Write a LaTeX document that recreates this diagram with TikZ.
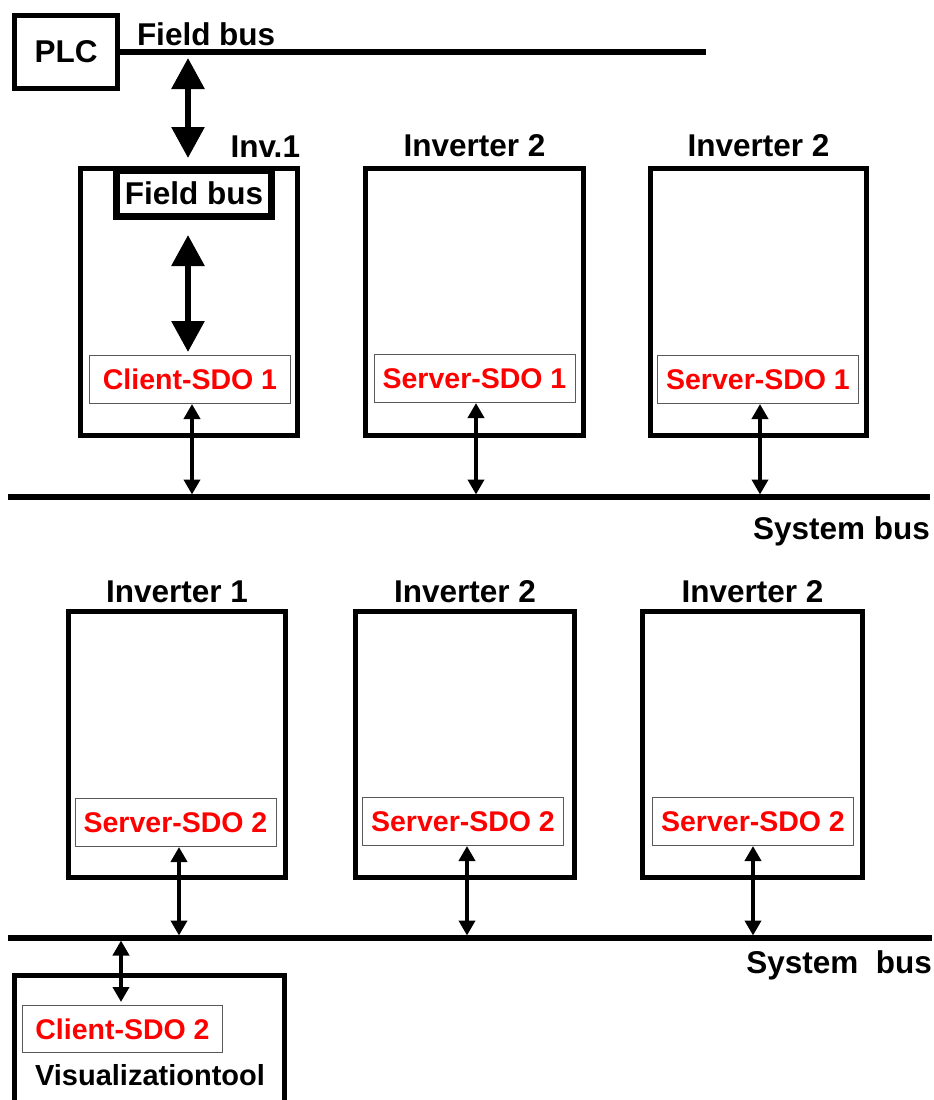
\documentclass[tikz,border=0pt]{standalone}
\usepackage{fontspec}
\setmainfont{Liberation Sans}
\usetikzlibrary{positioning,arrows.meta}

\begin{document}
\begin{tikzpicture}[x=1pt,y=-1pt,
		unit/.style={rectangle,draw=black,line width=5pt,minimum width=217pt,minimum height=267pt,inner sep=0pt},
		sdo/.style={rectangle,draw=black!65,line width=1pt,minimum width=201pt,minimum height=48pt,inner sep=0pt,text=red,font=\bfseries\fontsize{28.5}{34}\selectfont},
		lbl/.style={inner sep=0pt,outer sep=0pt,font=\bfseries\fontsize{31.5}{38}\selectfont},
		bus/.style={line width=5.5pt},
		bigarrow/.style={line width=6pt,{Triangle[width=32pt,length=31pt]}-{Triangle[width=32pt,length=31pt]}},
		smallarrow/.style={line width=4pt,{Triangle[width=16pt,length=15pt]}-{Triangle[width=16pt,length=15pt]}}]
		\useasboundingbox (0,0) rectangle (934,1100);
		\clip (0,0) rectangle (934,1100);

		% plc and field bus
		\node[rectangle,draw=black,line width=5pt,minimum width=103pt,minimum height=73pt,inner sep=0pt,font=\bfseries\fontsize{31.5}{38}\selectfont] (plc) at (66,52) {PLC};
		\draw[bus] (plc.east) -- (706,52) coordinate (fbend);
		\node[lbl,anchor=base west] (fblbl) at (137,45) {Field bus};
		\coordinate (fbtap) at (188,52);

		% inverters at the upper system bus
		\node[unit] (inv1) at (189,302) {};
		\node[unit,minimum width=218pt] (inv2) at (474.5,302) {};
		\node[unit,minimum width=216pt] (inv3) at (758.5,302) {};
		\node[lbl,above left=9pt and 0pt of inv1.north east] (inv1lbl) {Inv.1};
		\node[lbl,above=9pt of inv2] (inv2lbl) {Inverter 2};
		\node[lbl,above=9pt of inv3] (inv3lbl) {Inverter 2};
		\node[lbl,rectangle,draw=black,line width=7pt,minimum width=155pt,minimum height=46pt] (fbin) at (194,193.5) {Field bus};
		\node[sdo] (csdo1) at (190,379.5) {Client-SDO 1};
		\node[sdo] (ssdo1b) at (474.5,378.5) {Server-SDO 1};
		\node[sdo] (ssdo1c) at (758,379.5) {Server-SDO 1};

		% upper system bus
		\draw[bus] (8,497) coordinate (sys1w) -- (930,497) coordinate (sys1e);
		\node[lbl,anchor=base east] (sys1lbl) at ([yshift=-42pt]sys1e) {System bus};

		% field bus signals
		\draw[bigarrow,shorten <=6pt,shorten >=8pt] (fbtap) -- (fbtap |- inv1.north);
		\draw[bigarrow,shorten <=18.5pt,shorten >=3pt] ([xshift=-6pt]fbin.south) -- ([xshift=-6pt]fbin.south |- csdo1.north);

		% sdo 1 links
		\draw[smallarrow,shorten >=2.5pt] ([xshift=2pt]csdo1.south) -- ([xshift=2pt]csdo1.south |- sys1w);
		\draw[smallarrow,shorten >=2.5pt] ([xshift=1.5pt]ssdo1b.south) -- ([xshift=1.5pt]ssdo1b.south |- sys1w);
		\draw[smallarrow,shorten >=2.5pt] ([xshift=2pt]ssdo1c.south) -- ([xshift=2pt]ssdo1c.south |- sys1w);

		% inverters at the lower system bus
		\node[unit,minimum height=266pt] (inv4) at (177,744.5) {};
		\node[unit,minimum width=219pt,minimum height=266pt] (inv5) at (465,744.5) {};
		\node[unit,minimum width=220pt,minimum height=266pt] (inv6) at (752.5,744.5) {};
		\node[lbl,above=6pt of inv4] (inv4lbl) {Inverter 1};
		\node[lbl,above=6pt of inv5] (inv5lbl) {Inverter 2};
		\node[lbl,above=6pt of inv6] (inv6lbl) {Inverter 2};
		\node[sdo] (ssdo2a) at (175.5,822.5) {Server-SDO 2};
		\node[sdo] (ssdo2b) at (463,821.5) {Server-SDO 2};
		\node[sdo] (ssdo2c) at (753,821.5) {Server-SDO 2};

		% lower system bus
		\draw[bus] (8,938) coordinate (sys2w) -- (932,938) coordinate (sys2e);
		\node[lbl,anchor=base east] (sys2lbl) at ([yshift=-35pt]sys2e) {System~~bus};

		% sdo 2 links
		\draw[smallarrow,shorten >=2.5pt] ([xshift=3.5pt]ssdo2a.south) -- ([xshift=3.5pt]ssdo2a.south |- sys2w);
		\draw[smallarrow,shorten >=2.5pt] ([xshift=4pt]ssdo2b.south) -- ([xshift=4pt]ssdo2b.south |- sys2w);
		\draw[smallarrow,shorten >=2.5pt] (ssdo2c.south) -- (ssdo2c.south |- sys2w);

		% visualization tool
		\node[unit,minimum width=270pt,minimum height=175pt] (vis) at (149.5,1063) {};
		\node[sdo,minimum width=200pt,minimum height=47pt] (csdo2) at (122.5,1029) {Client-SDO 2};
		\node[lbl,font=\bfseries\fontsize{29}{35}\selectfont,anchor=base] (vislbl) at (150,1085) {Visualizationtool};
		\draw[smallarrow,shorten <=3pt,shorten >=2.5pt] ([xshift=-1.5pt]csdo2.north) -- ([xshift=-1.5pt]csdo2.north |- sys2w);
	\end{tikzpicture}
\end{document}
